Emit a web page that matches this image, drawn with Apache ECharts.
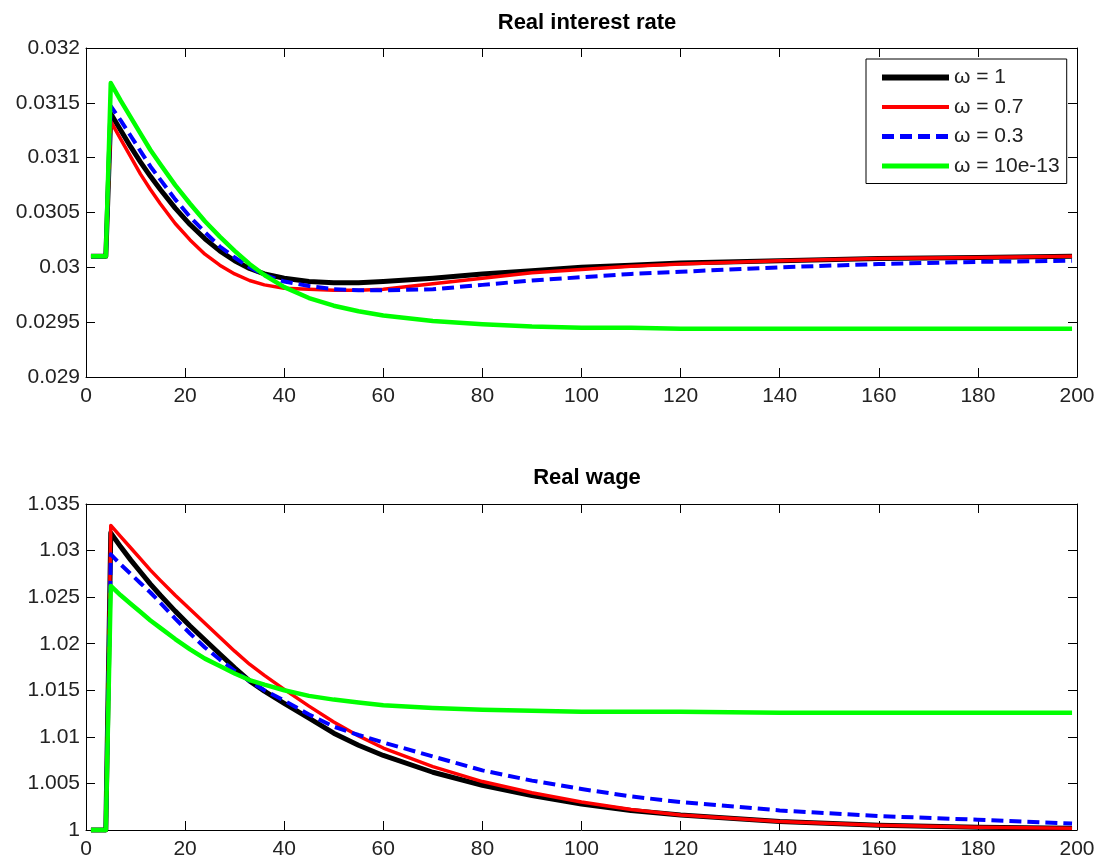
<!DOCTYPE html>
<html>
<head>
<meta charset="utf-8">
<script src="https://cdn.jsdelivr.net/npm/echarts@6/dist/echarts.min.js"></script>
<style>html,body{margin:0;padding:0;background:#fff}#c{width:1098px;height:860px}</style>
</head>
<body>
<div id="c"></div>
<script>
// Period index for sampled points
const periods = [1,4,5,7,9,11,13,15,18,21,24,27,30,33,36,40,45,50,55,60,70,80,90,100,110,120,140,160,180,199];

const seriesNames = ['ω = 1', 'ω = 0.7', 'ω = 0.3', 'ω = 10e-13'];
const panelTitles = ['Real interest rate', 'Real wage'];

// Real interest rate
const rateW1  = [0.03010,0.03010,0.03140,0.03125,0.03110,0.03096,0.03083,0.03071,0.03054,0.03039,0.03026,0.03015,0.03006,0.02999,0.02994,0.02990,0.02987,0.02986,0.02986,0.02987,0.02990,0.02994,0.02997,0.03000,0.03002,0.03004,0.03006,0.03008,0.03009,0.03010];
const rateW07 = [0.03010,0.03010,0.03133,0.03117,0.03101,0.03085,0.03071,0.03058,0.03040,0.03025,0.03012,0.03002,0.02994,0.02988,0.02984,0.02981,0.02980,0.02979,0.02979,0.02980,0.02985,0.02990,0.02995,0.02998,0.03001,0.03003,0.03006,0.03008,0.03009,0.03010];
const rateW03 = [0.03010,0.03010,0.03147,0.03134,0.03120,0.03106,0.03092,0.03080,0.03062,0.03046,0.03032,0.03019,0.03009,0.03000,0.02993,0.02987,0.02983,0.02980,0.02979,0.02979,0.02980,0.02984,0.02988,0.02991,0.02994,0.02996,0.03000,0.03003,0.03005,0.03006];
const rateW0  = [0.03010,0.03010,0.03168,0.03152,0.03137,0.03122,0.03107,0.03094,0.03075,0.03058,0.03042,0.03028,0.03015,0.03003,0.02993,0.02982,0.02972,0.02965,0.02960,0.02956,0.02951,0.02948,0.02946,0.02945,0.02945,0.02944,0.02944,0.02944,0.02944,0.02944];

// Real wage
const wageW1  = [1.0,1.0,1.0319,1.0304,1.0290,1.0277,1.0264,1.0252,1.0235,1.0219,1.0204,1.0189,1.0174,1.0160,1.0149,1.0136,1.0120,1.0104,1.0091,1.0080,1.0062,1.0048,1.0037,1.0028,1.0021,1.0016,1.0009,1.0005,1.0003,1.0002];
const wageW07 = [1.0,1.0,1.0327,1.0315,1.0303,1.0291,1.0279,1.0268,1.0252,1.0237,1.0222,1.0207,1.0192,1.0178,1.0166,1.0151,1.0133,1.0116,1.0101,1.0088,1.0068,1.0052,1.0040,1.0030,1.0022,1.0016,1.0009,1.0005,1.0003,1.0002];
const wageW03 = [1.0,1.0,1.0296,1.0285,1.0275,1.0265,1.0255,1.0244,1.0227,1.0211,1.0196,1.0183,1.0171,1.0160,1.0150,1.0139,1.0124,1.0111,1.0102,1.0094,1.0079,1.0064,1.0053,1.0044,1.0036,1.0030,1.0021,1.0015,1.0011,1.0007];
const wageW0  = [1.0,1.0,1.0262,1.0252,1.0243,1.0234,1.0225,1.0217,1.0205,1.0194,1.0184,1.0176,1.0168,1.0161,1.0156,1.0150,1.0144,1.0140,1.0137,1.0134,1.0131,1.0129,1.0128,1.0127,1.0127,1.0127,1.0126,1.0126,1.0126,1.0126];

const rateSets = [rateW1, rateW07, rateW03, rateW0];
const wageSets = [wageW1, wageW07, wageW03, wageW0];

const styles = [
  {color:'#000000', width:5, type:'solid', legendWidth:6},
  {color:'#ff0000', width:3.5, type:'solid', legendWidth:4},
  {color:'#0000ff', width:4, type:[12,6], legendWidth:5},
  {color:'#00ff00', width:4.5, type:'solid', legendWidth:5}
];

const FONT = 'Liberation Sans, Arial, sans-serif';
const grids = [
  {left:86, right:21, top:48, height:329},
  {left:86, right:21, top:504, height:328}
];

function xAxes(gi){
  const base = {type:'value', gridIndex:gi, min:0, max:200, interval:20,
    splitLine:{show:false},
    axisLine:{show:true, onZero:false, lineStyle:{color:'#000', width:1}},
    axisTick:{show:true, inside:true, length:9, lineStyle:{color:'#000'}}};
  return [
    Object.assign({}, base, {position:'bottom',
      axisLabel:{show:true, fontSize:21, color:'#222', fontFamily:FONT, margin:9}}),
    Object.assign({}, base, {position:'top', axisLabel:{show:false}})
  ];
}
function yAxes(gi, mn, mx, iv){
  const base = {type:'value', gridIndex:gi, min:mn, max:mx, interval:iv,
    splitLine:{show:false},
    axisLine:{show:true, onZero:false, lineStyle:{color:'#000', width:1}},
    axisTick:{show:true, inside:true, length:9, lineStyle:{color:'#000'}}};
  return [
    Object.assign({}, base, {position:'left',
      axisLabel:{show:true, fontSize:21, color:'#222', fontFamily:FONT, margin:6}}),
    Object.assign({}, base, {position:'right', axisLabel:{show:false}})
  ];
}

const series = [];
[rateSets, wageSets].forEach((sets, gi) => {
  sets.forEach((vals, i) => {
    series.push({
      name: seriesNames[i], type:'line',
      xAxisIndex: gi*2, yAxisIndex: gi*2,
      data: periods.map((t, k) => [t, vals[k]]),
      showSymbol:false, symbol:'none', smooth:false, clip:false, animation:false,
      lineStyle:{color:styles[i].color, width:styles[i].width, type:styles[i].type, join:'round', cap:'butt'},
      itemStyle:{color:styles[i].color},
      z: 2 + i
    });
  });
});

const chart = echarts.init(document.getElementById('c'), null, {renderer:'canvas'});
chart.setOption({
  animation:false,
  backgroundColor:'#fff',
  title: [
    {text:panelTitles[0], left:582, textAlign:'center', top:7,
      textStyle:{fontSize:22, fontWeight:'bold', color:'#000', fontFamily:FONT}},
    {text:panelTitles[1], left:582, textAlign:'center', top:462,
      textStyle:{fontSize:22, fontWeight:'bold', color:'#000', fontFamily:FONT}}
  ],
  legend: {
    data: seriesNames.map((n, i) => ({
      name: n,
      lineStyle: {width: styles[i].legendWidth, type: styles[i].type, color: styles[i].color}
    })),
    left:866, top:59, orient:'vertical',
    padding:[8,7,7,13],
    itemWidth:67, itemHeight:14, itemGap:8.5,
    backgroundColor:'#fff', borderColor:'#000', borderWidth:1,
    itemStyle:{opacity:0, color:'rgba(0,0,0,0)', borderWidth:0},
    lineStyle:{width:'inherit'},
    textStyle:{fontSize:21, color:'#222', fontFamily:FONT, lineHeight:21},
    selectedMode:false
  },
  grid: grids,
  xAxis: [...xAxes(0), ...xAxes(1)],
  yAxis: [...yAxes(0, 0.029, 0.032, 0.0005), ...yAxes(1, 1, 1.035, 0.005)],
  series: series
});
</script>
</body>
</html>
